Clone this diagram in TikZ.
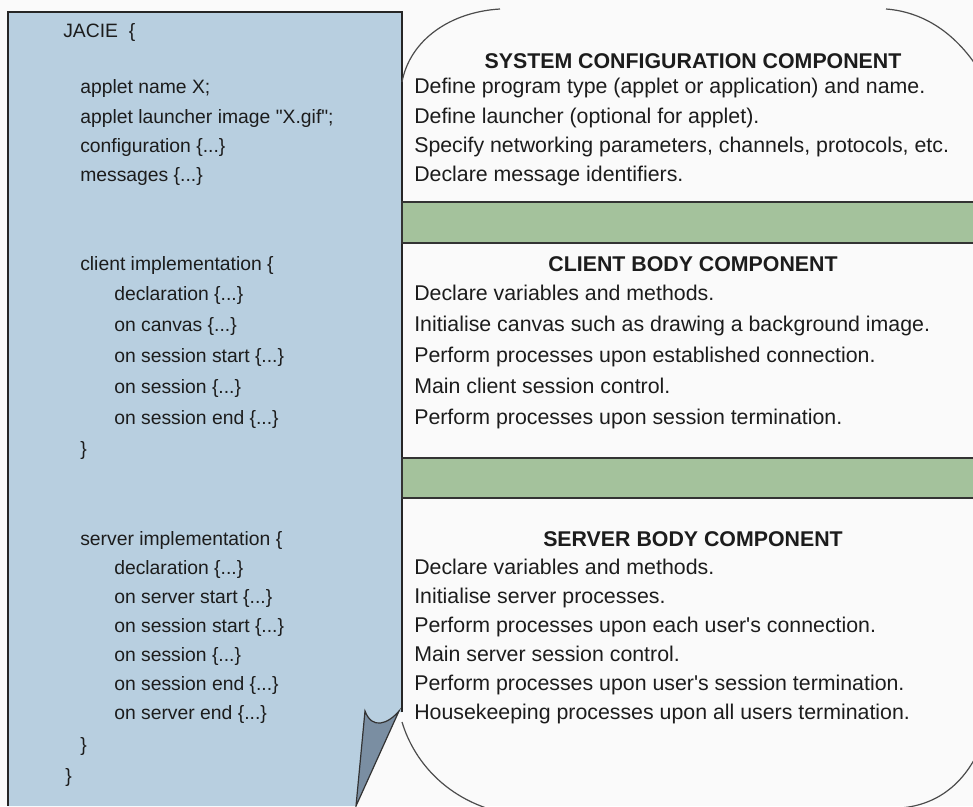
\documentclass[tikz,border=0pt]{standalone}
\usepackage{fontspec}
\setmainfont{Liberation Sans}[Ligatures=TeXOff]
\definecolor{panelblue}{RGB}{184,207,224}
\definecolor{sage}{RGB}{164,194,156}
\definecolor{tailgray}{RGB}{122,142,162}
\definecolor{bgc}{RGB}{250,250,250}
\definecolor{txt}{RGB}{28,28,28}
\begin{document}
\begin{tikzpicture}[x=0.75pt,y=-0.75pt,
  code/.style={anchor=base west, inner sep=0pt, text=txt, font=\fontsize{14.5}{17}\selectfont},
  desc/.style={anchor=base west, inner sep=0pt, text=txt, font=\fontsize{16}{19}\selectfont},
  head/.style={anchor=base, inner sep=0pt, text=txt, font=\fontsize{16}{19}\selectfont\bfseries},
  band/.style={fill=sage, draw=black!80, line width=1.1pt},
  bubble/.style={draw=black!70, line width=0.9pt},
  edge/.style={draw=black!85, line width=1.2pt}]
\useasboundingbox (0,0) rectangle (973,806);
\clip (0,0) rectangle (973,806);
\fill[bgc] (0,0) rectangle (973,806);

% left panel
\path[fill=panelblue] (8,12) -- (402,12) -- (402,712) -- (399,712) -- (355,806) -- (8,806) -- cycle;
\draw[edge] (8,806) -- (8,12) -- (402,12) -- (402,712);

% tail
\filldraw[fill=tailgray, draw=black!80, line width=0.9pt]
  (365,711) .. controls (372,730) and (388,724) .. (399,711) -- (356,806) -- cycle;

% bubble corner arcs
\draw[bubble] (402,82) .. controls (410,40) and (450,12) .. (500,9);
\draw[bubble] (886,9) .. controls (925,12) and (960,35) .. (985,80);
\draw[bubble] (985,735) .. controls (970,780) and (940,805) .. (900,808);
\draw[bubble] (402,722) .. controls (415,765) and (450,800) .. (500,812);

% green bands
\draw[band] (402,202) rectangle (990,243);
\draw[band] (402,458) rectangle (990,498);

% left code
\node[code] (jacie) at (63,38) {JACIE\ \ \{};
\node[code] (l1) at (80,94) {applet name X;};
\node[code] (l2) at (80,123) {applet launcher image "X.gif";};
\node[code] (l3) at (80,152) {configuration \{...\}};
\node[code] (l4) at (80,181) {messages \{...\}};
\node[code] (c0) at (80,270) {client implementation \{};
\node[code] (c1) at (114,300) {declaration \{...\}};
\node[code] (c2) at (114,331) {on canvas \{...\}};
\node[code] (c3) at (114,362) {on session start \{...\}};
\node[code] (c4) at (114,393) {on session \{...\}};
\node[code] (c5) at (114,424) {on session end \{...\}};
\node[code] (c6) at (80,455) {\}};
\node[code] (s0) at (80,545) {server implementation \{};
\node[code] (s1) at (114,574) {declaration \{...\}};
\node[code] (s2) at (114,603) {on server start \{...\}};
\node[code] (s3) at (114,632) {on session start \{...\}};
\node[code] (s4) at (114,661) {on session \{...\}};
\node[code] (s5) at (114,690) {on session end \{...\}};
\node[code] (s6) at (114,719) {on server end \{...\}};
\node[code] (s7) at (80,751) {\}};
\node[code] (s8) at (65,782) {\}};

% right descriptions
\node[head] (h1) at (693,69) {SYSTEM CONFIGURATION COMPONENT};
\node[desc] (r1) at (414,94) {Define program type (applet or application) and name.};
\node[desc] (r2) at (414,123) {Define launcher (optional for applet).};
\node[desc] (r3) at (414,152) {Specify networking parameters, channels, protocols, etc.};
\node[desc] (r4) at (414,181) {Declare message identifiers.};
\node[head] (h2) at (693,271) {CLIENT BODY COMPONENT};
\node[desc] (rc1) at (414,300) {Declare variables and methods.};
\node[desc] (rc2) at (414,331) {Initialise canvas such as drawing a background image.};
\node[desc] (rc3) at (414,362) {Perform processes upon established connection.};
\node[desc] (rc4) at (414,393) {Main client session control.};
\node[desc] (rc5) at (414,424) {Perform processes upon session termination.};
\node[head] (h3) at (693,546) {SERVER BODY COMPONENT};
\node[desc] (rs1) at (414,574) {Declare variables and methods.};
\node[desc] (rs2) at (414,603) {Initialise server processes.};
\node[desc] (rs3) at (414,632) {Perform processes upon each user's connection.};
\node[desc] (rs4) at (414,661) {Main server session control.};
\node[desc] (rs5) at (414,690) {Perform processes upon user's session termination.};
\node[desc] (rs6) at (414,719) {Housekeeping processes upon all users termination.};
\end{tikzpicture}
\end{document}
